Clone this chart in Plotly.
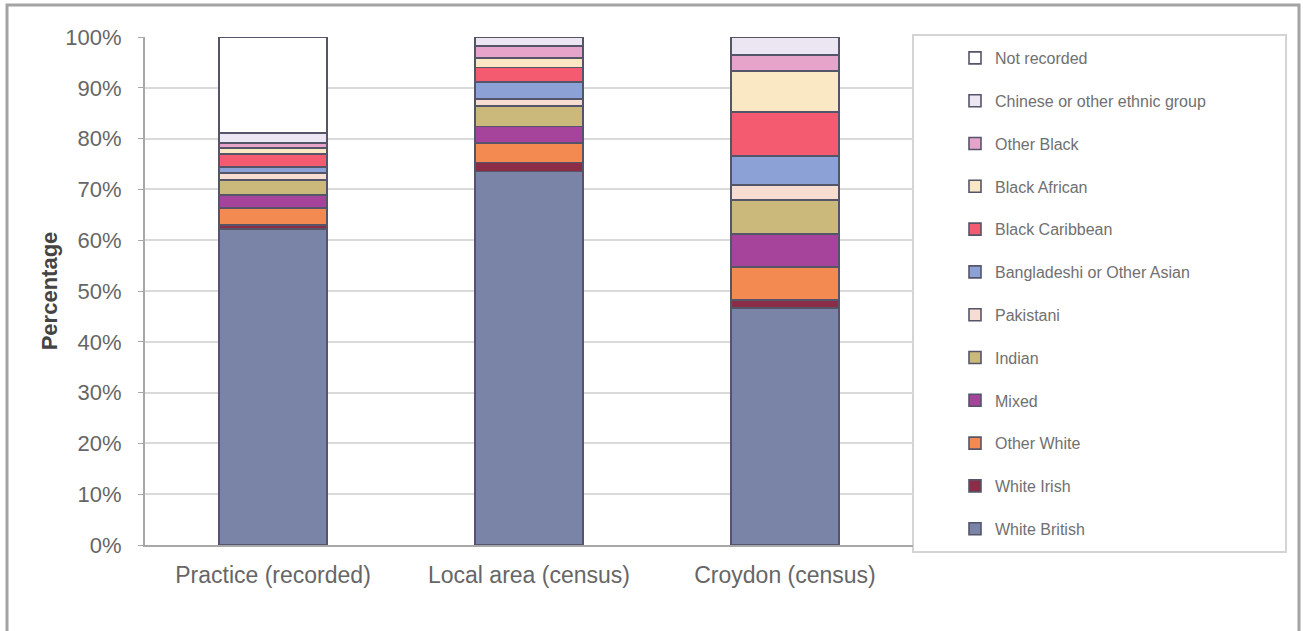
import plotly.graph_objects as go

categories = ["Practice (recorded)", "Local area (census)", "Croydon (census)"]

# Series listed bottom-to-top of the stack (percent)
white_british = [62.2, 73.5, 46.7]
white_irish = [0.8, 1.8, 1.5]
other_white = [3.3, 3.8, 6.5]
mixed = [2.6, 3.3, 6.5]
indian = [3.0, 4.0, 6.7]
pakistani = [1.3, 1.4, 3.0]
bangladeshi_other_asian = [1.2, 3.4, 5.7]
black_caribbean = [2.6, 2.8, 8.6]
black_african = [1.1, 1.9, 8.1]
other_black = [1.0, 2.3, 3.2]
chinese_other = [2.0, 1.8, 3.5]
not_recorded = [18.9, 0.0, 0.0]

series_names = ["White British", "White Irish", "Other White", "Mixed", "Indian",
                "Pakistani", "Bangladeshi or Other Asian", "Black Caribbean",
                "Black African", "Other Black", "Chinese or other ethnic group",
                "Not recorded"]
series_values = [white_british, white_irish, other_white, mixed, indian, pakistani,
                 bangladeshi_other_asian, black_caribbean, black_african, other_black,
                 chinese_other, not_recorded]
series_colors = ["#7a84a6", "#8c2d48", "#f28a52", "#a6439a", "#cbb97c", "#f7dcd2",
                 "#8ca1d6", "#f45a70", "#fae8c4", "#e6a4cb", "#ece6f2", "#ffffff"]

y_ticks = [0, 10, 20, 30, 40, 50, 60, 70, 80, 90, 100]
y_tick_labels = ["0%", "10%", "20%", "30%", "40%", "50%", "60%", "70%", "80%", "90%", "100%"]

FONT = "Liberation Sans, Arial, sans-serif"

fig = go.Figure()
for i, (name, vals, col) in enumerate(zip(series_names, series_values, series_colors)):
    fig.add_trace(go.Bar(
        x=categories, y=vals, name=name, legendgroup=name,
        legendrank=1000 - i,
        marker=dict(color=col, line=dict(color="#55556a", width=1.6)),
        width=0.42,
    ))

# plot area: x 145..913, y 37..545
L, R, T, B = 145, 913, 37, 545
W, H = R - L, B - T
def px(x):
    return (x - L) / W
def py(y):
    return (B - y) / H

shapes = [
    # outer chart border
    dict(type="rect", xref="paper", yref="paper",
         x0=px(7), x1=px(1299), y0=py(660), y1=py(5),
         line=dict(color="#a3a3a3", width=3), fillcolor="rgba(0,0,0,0)", layer="below"),
    # legend box
    dict(type="rect", xref="paper", yref="paper",
         x0=px(913), x1=px(1286), y0=py(552), y1=py(35),
         line=dict(color="#d4d4d4", width=2), fillcolor="rgba(0,0,0,0)", layer="below"),
]

fig.update_layout(
    barmode="stack",
    width=1303, height=631,
    margin=dict(l=L, r=1303 - R, t=T, b=631 - B, autoexpand=False),
    paper_bgcolor="white", plot_bgcolor="white",
    font=dict(family=FONT, color="#666666"),
    shapes=shapes,
    showlegend=True,
    legend=dict(
        x=px(955), xanchor="left", y=py(41), yanchor="top",
        traceorder="grouped", tracegroupgap=19,
        font=dict(size=16, color="#707070", family=FONT),
        bgcolor="rgba(0,0,0,0)", borderwidth=0,
    ),
    xaxis=dict(
        showgrid=False, showline=True, linecolor="#a8a8a8", linewidth=2,
        ticks="", tickfont=dict(size=23, color="#666666"),
        ticklabelstandoff=8,
    ),
    yaxis=dict(
        range=[0, 100], tickvals=y_ticks, ticktext=y_tick_labels,
        showgrid=True, gridcolor="#dadada", gridwidth=2,
        showline=True, linecolor="#a8a8a8", linewidth=2,
        ticks="outside", ticklen=5, tickcolor="#a8a8a8",
        tickfont=dict(size=22, color="#666666"),
        ticklabelstandoff=12,
        title=dict(text="<b>Percentage</b>", font=dict(size=22, color="#444444"), standoff=2),
        zeroline=False,
    ),
)

fig.write_html("out.html")
